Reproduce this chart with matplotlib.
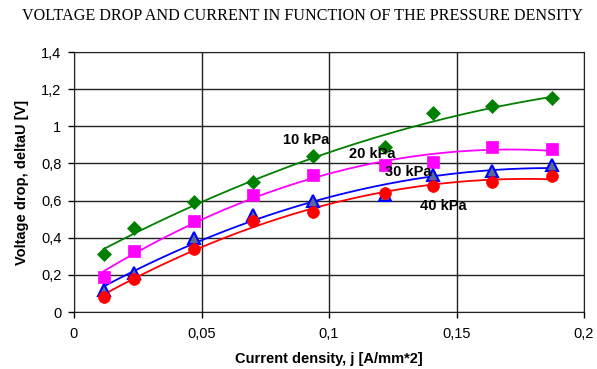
import numpy as np
import matplotlib.pyplot as plt

# donnees
j = [0.0117, 0.0234, 0.0469, 0.0703, 0.0938, 0.1219, 0.1406, 0.1641, 0.1875]
du_10 = [0.31, 0.45, 0.59, 0.70, 0.84, 0.89, 1.07, 1.11, 1.15]
du_20 = [0.19, 0.33, 0.49, 0.63, 0.74, 0.79, 0.81, 0.89, 0.88]
du_30 = [0.12, 0.21, 0.40, 0.52, 0.60, 0.63, 0.74, 0.76, 0.79]
du_40 = [0.08, 0.18, 0.34, 0.49, 0.54, 0.64, 0.68, 0.70, 0.73]

labels = ["10 kPa", "20 kPa", "30 kPa", "40 kPa"]
label_pos = [(0.082, 0.926), (0.108, 0.85), (0.122, 0.755), (0.1355, 0.572)]

fig = plt.figure(figsize=(5.97, 3.69), dpi=100)
ax = fig.add_axes([74 / 597, 1 - 312 / 369, 510 / 597, 260 / 369])

series = [
    (du_10, "#008000", "#008000", "D", 7.5),
    (du_20, "#ff00ff", "#ff00ff", "s", 8),
    (du_30, "#0000ff", "#5a6a96", "^", 8.5),
    (du_40, "#ff0000", "#ff0000", "o", 8.5),
]

xs = np.linspace(j[0], j[-1], 200)
for vals, col, fill, mk, ms in series:
    # courbe de tendance (polynome d'ordre 2)
    p = np.polyfit(j, vals, 2)
    ax.plot(xs, np.polyval(p, xs), color=col, lw=1.3, zorder=3)
for vals, col, fill, mk, ms in series:
    ax.plot(j, vals, ls="none", marker=mk, ms=ms, mfc=fill, mec=col,
            mew=1.5 if mk == "^" else 0.5, zorder=4)

for txt, (x, y) in zip(labels, label_pos):
    ax.text(x, y, txt, fontsize=10.5, fontweight="bold", family="Liberation Sans",
            va="center", ha="left", zorder=5)

ax.set_xlim(0, 0.2)
ax.set_ylim(0, 1.4)
ax.set_xticks([0, 0.05, 0.1, 0.15, 0.2])
ax.set_xticklabels(["0", "0,05", "0,1", "0,15", "0,2"])
ax.set_yticks([0, 0.2, 0.4, 0.6, 0.8, 1.0, 1.2, 1.4])
ax.set_yticklabels(["0", "0,2", "0,4", "0,6", "0,8", "1", "1,2", "1,4"])
ax.grid(True, color="#222222", lw=1)
ax.set_axisbelow(True)
ax.tick_params(direction="out", length=4, width=1, labelsize=10.5)
ax.tick_params(axis="x", pad=7)
ax.tick_params(axis="y", pad=5)
for lab in ax.get_xticklabels() + ax.get_yticklabels():
    lab.set_family("Liberation Sans")
for s in ax.spines.values():
    s.set_color("#222222")

ax.set_xlabel("Current density, j [A/mm*2]", fontsize=10.5, fontweight="bold",
              family="Liberation Sans", labelpad=8)
ax.set_ylabel("Voltage drop, deltaU [V]", fontsize=10.5, fontweight="bold",
              family="Liberation Sans", labelpad=9)

fig.text(0.5 + 4 / 597, 1 - 16 / 369,
         "VOLTAGE DROP AND CURRENT IN FUNCTION OF THE PRESSURE DENSITY",
         ha="center", va="center", fontsize=11.6, family="Liberation Serif")

fig.savefig("out.png", dpi=100)
